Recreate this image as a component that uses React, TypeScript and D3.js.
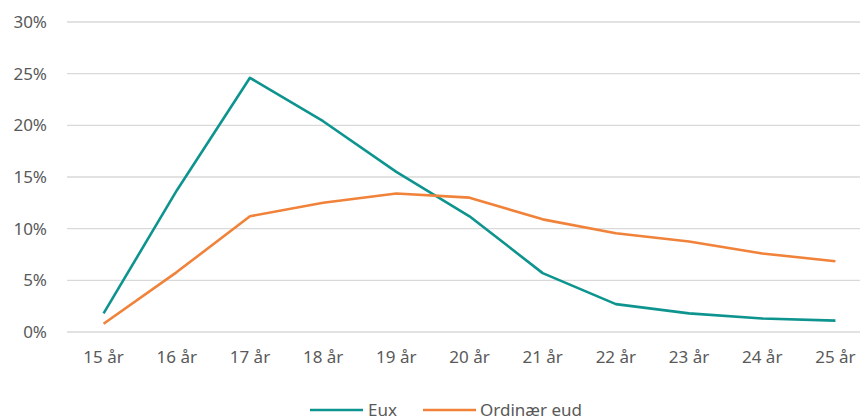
import React from "react";
import * as d3 from "d3";

const categories = ["15 år", "16 år", "17 år", "18 år", "19 år", "20 år", "21 år", "22 år", "23 år", "24 år", "25 år"];
const euxValues = [1.8, 13.7, 24.6, 20.4, 15.5, 11.2, 5.7, 2.7, 1.8, 1.3, 1.1];
const ordinaerValues = [0.8, 5.8, 11.2, 12.5, 13.4, 13.0, 10.9, 9.55, 8.75, 7.6, 6.85];
const yTicks = [0, 5, 10, 15, 20, 25, 30];
const seriesNames = ["Eux", "Ordinær eud"];
const seriesColors = ["#0E948F", "#F0823A"];

const W = 860;
const H = 417;
const left = 67;
const right = 872;
const top = 22;
const bottom = 332;
const FONT = "'Noto Sans', sans-serif";
const TEXT = "#595959";

export default function App() {
  const x = d3.scaleBand<string>().domain(categories).range([left, right]);
  const y = d3.scaleLinear().domain([0, 30]).range([bottom, top]);
  const cx = (c: string) => (x(c) ?? 0) + x.bandwidth() / 2;
  const line = d3
    .line<number>()
    .x((_, i) => cx(categories[i]))
    .y((d) => y(d));
  const series = [euxValues, ordinaerValues];

  return (
    <svg
      width={W}
      height={H}
      style={{ position: "absolute", left: 0, top: 0, background: "#fff" }}
      fontFamily={FONT}
    >
      {yTicks.map((t) => (
        <g key={t}>
          <line x1={left} x2={W} y1={y(t)} y2={y(t)} stroke="#d9d9d9" strokeWidth={1.3} />
          <text x={47} y={y(t)} dy="0.36em" textAnchor="end" fontSize={17} fill={TEXT}>
            {t}%
          </text>
        </g>
      ))}
      {categories.map((c) => (
        <text key={c} x={cx(c)} y={363} textAnchor="middle" fontSize={17} fill={TEXT}>
          {c}
        </text>
      ))}
      {series.map((s, i) => (
        <path
          key={i}
          d={line(s) ?? ""}
          fill="none"
          stroke={seriesColors[i]}
          strokeWidth={2.6}
          strokeLinejoin="round"
        />
      ))}
      <g>
        <line x1={310} x2={363} y1={410} y2={410} stroke={seriesColors[0]} strokeWidth={2.6} />
        <text x={368} y={410} dy="0.36em" fontSize={17} fill={TEXT}>
          {seriesNames[0]}
        </text>
        <line x1={423} x2={476} y1={410} y2={410} stroke={seriesColors[1]} strokeWidth={2.6} />
        <text x={480} y={410} dy="0.36em" fontSize={17} fill={TEXT}>
          {seriesNames[1]}
        </text>
      </g>
    </svg>
  );
}
